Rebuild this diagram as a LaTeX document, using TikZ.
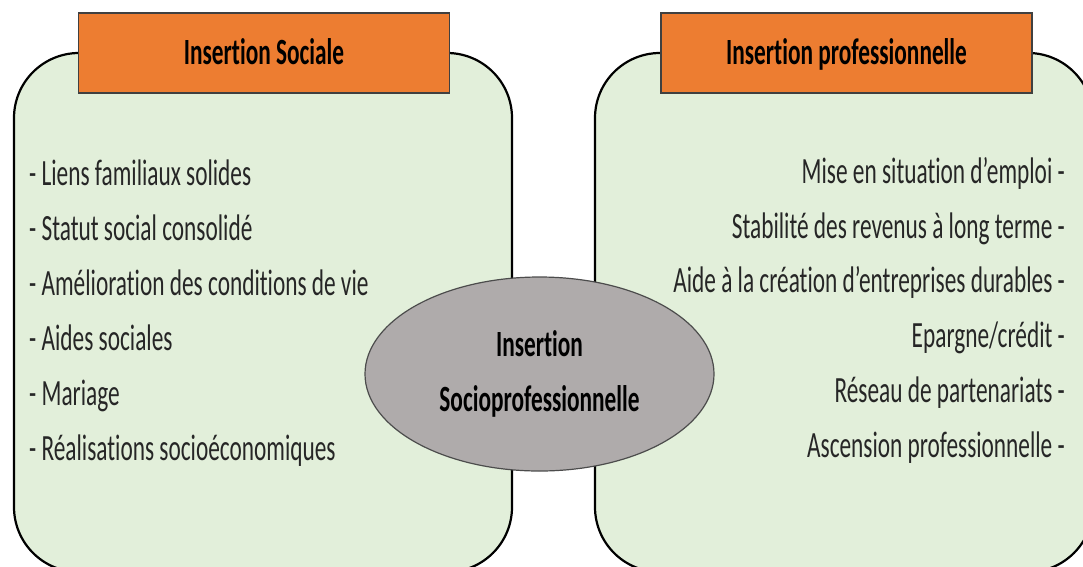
\documentclass[tikz,border=0pt]{standalone}
\usepackage{fontspec}
\setmainfont{Carlito}[FakeStretch=0.63, Ligatures=NoCommon]
\usetikzlibrary{shapes.geometric}
\definecolor{panelgreen}{RGB}{226,239,218}
\definecolor{headorange}{RGB}{237,125,49}
\definecolor{ovalgray}{RGB}{175,171,171}

\begin{document}
\begin{tikzpicture}[x=1pt, y=-1pt,
    panel/.style={draw=black, line width=2.2pt, fill=panelgreen, rounded corners=65pt, minimum width=498pt, minimum height=519pt},
    header/.style={draw=black!75, line width=1.2pt, fill=headorange, minimum width=371pt, minimum height=80pt, inner sep=0pt, text height=23.4pt, text depth=0pt, font=\fontsize{37}{44}\selectfont\bfseries},
    item/.style={inner sep=0pt, text=black!85, font=\fontsize{37}{44}\selectfont},
    oval/.style={ellipse, draw=black!70, line width=1.2pt, fill=ovalgray, minimum width=349pt, minimum height=194pt, inner sep=0pt, align=center, font=\fontsize{37}{55}\selectfont\bfseries}]
        \useasboundingbox (0,0) rectangle (1083,566);
        \clip (0,0) rectangle (1083,566);

        % the two panels
        \node[panel] (sociale) at (263,312.5) {};
        \node[panel] (pro) at (844,312.5) {};

        \node[header] (hsociale) at (264,53) {Insertion Sociale};
        \node[header] (hpro) at (846.5,53) {Insertion professionnelle};

        % left list
        \node[item, anchor=base west] (s1) at (29,185) {- Liens familiaux solides};
        \node[item, anchor=base west] (s2) at (29,240) {- Statut social consolidé};
        \node[item, anchor=base west] (s3) at (29,295) {- Amélioration des conditions de vie};
        \node[item, anchor=base west] (s4) at (29,350) {- Aides sociales};
        \node[item, anchor=base west] (s5) at (29,405) {- Mariage};
        \node[item, anchor=base west] (s6) at (29,460) {- Réalisations socioéconomiques};

        % right list
        \node[item, anchor=base east] (p1) at (1065,183) {Mise en situation d’emploi -};
        \node[item, anchor=base east] (p2) at (1065,238) {Stabilité des revenus à long terme -};
        \node[item, anchor=base east] (p3) at (1065,292) {Aide à la création d’entreprises durables -};
        \node[item, anchor=base east] (p4) at (1065,347) {Epargne/crédit -};
        \node[item, anchor=base east] (p5) at (1065,402) {Réseau de partenariats -};
        \node[item, anchor=base east] (p6) at (1065,457) {Ascension professionnelle -};

        \node[oval] (insertion) at (539.5,374) {Insertion\\Socioprofessionnelle};
    \end{tikzpicture}
\end{document}
